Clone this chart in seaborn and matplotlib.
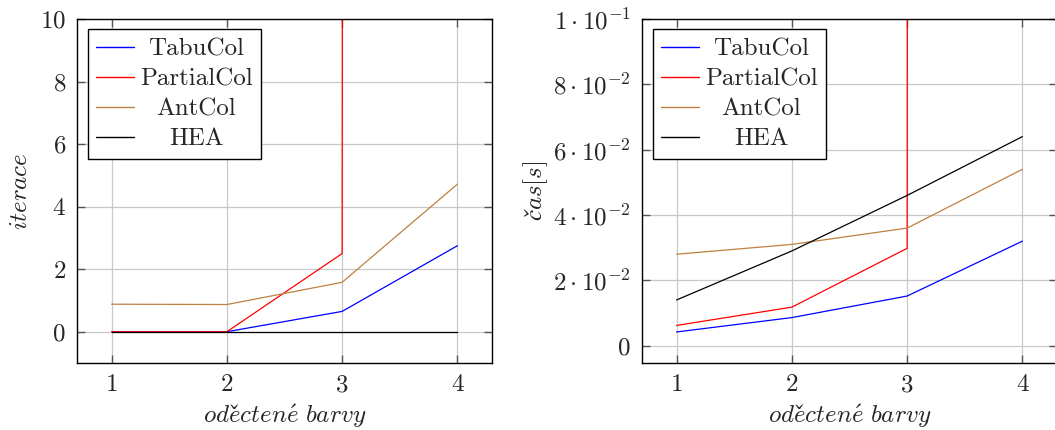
import numpy as np
import pandas as pd
import matplotlib
matplotlib.use("Agg")
import matplotlib.pyplot as plt
from matplotlib.ticker import FuncFormatter
from matplotlib.transforms import Affine2D
import seaborn as sns

# ---- data ----
x_vals = [1, 2, 3, 4]
algorithms = ["TabuCol", "PartialCol", "AntCol", "HEA"]
iter_tabucol = [0.0, 0.0, 0.65, 2.75]
iter_partialcol = [0.0, 0.0, 2.5, 5000.0]
iter_antcol = [0.88, 0.87, 1.58, 4.72]
iter_hea = [0.0, 0.0, 0.0, 0.0]
time_tabucol = [0.0042, 0.0086, 0.0152, 0.032]
time_partialcol = [0.0062, 0.0118, 0.0298, 50.0]
time_antcol = [0.028, 0.031, 0.036, 0.054]
time_hea = [0.014, 0.029, 0.046, 0.064]
colors = ["#0000ff", "#ff0000", "#bf8040", "#000000"]
left_yticks = [0, 2, 4, 6, 8, 10]
right_yticks = [0, 0.02, 0.04, 0.06, 0.08, 0.1]

def long_df(series):
    rows = []
    for name, vals in zip(algorithms, series):
        for xv, yv in zip(x_vals, vals):
            rows.append({"x": xv, "y": yv, "alg": name})
    return pd.DataFrame(rows)

df_iter = long_df([iter_tabucol, iter_partialcol, iter_antcol, iter_hea])
df_time = long_df([time_tabucol, time_partialcol, time_antcol, time_hea])

sns.set_theme(style="white")
plt.rcParams["font.family"] = ["cmr10", "DejaVu Serif"]
plt.rcParams["mathtext.fontset"] = "cm"
plt.rcParams["axes.formatter.use_mathtext"] = True
FS = 18

W, H = 1055, 430
fig = plt.figure(figsize=(W / 100, H / 100), dpi=100)
ax1 = fig.add_axes([77 / W, (H - 363) / H, 415 / W, 344 / H])
ax2 = fig.add_axes([642 / W, (H - 363) / H, 415 / W, 344 / H])

pal = dict(zip(algorithms, colors))
legends = []

for ax, df in [(ax1, df_iter), (ax2, df_time)]:
    sns.lineplot(data=df, x="x", y="y", hue="alg", hue_order=algorithms,
                 palette=pal, estimator=None, linewidth=0.9, ax=ax,
                 legend=True)
    ax.set_xlim(0.7, 4.3)
    ax.set_xticks(x_vals)
    ax.set_xticklabels([f"${v}$" for v in x_vals])
    ax.grid(True, color="#c8c8c8", linewidth=0.9)
    ax.set_axisbelow(True)
    for s in ax.spines.values():
        s.set_color("black")
        s.set_linewidth(1.0)
    ax.tick_params(axis="both", which="major", direction="in", length=6,
                   width=1.0, color="#555555", labelsize=FS, pad=8,
                   top=True, right=True, left=True, bottom=True)
    ax.set_xlabel(r"$ode\check{c}ten\acute{e}\ barvy$", fontsize=FS, labelpad=4)
    leg = ax.legend(loc="upper left", fontsize=FS, frameon=True, fancybox=False,
                    edgecolor="black", framealpha=1, borderpad=0.34,
                    labelspacing=0.30, handlelength=1.5, handletextpad=0.25,
                    borderaxespad=0.42)
    leg.get_frame().set_linewidth(1.0)
    for l in leg.get_lines():
        l.set_linewidth(1.0)
    legends.append(leg)

ax1.set_ylim(-1, 10)
ax1.set_yticks(left_yticks)
ax1.set_yticklabels([f"${v}$" for v in left_yticks])
ax1.set_ylabel(r"$iterace$", fontsize=FS, labelpad=6)

ax2.set_ylim(-0.0053, 0.1)
ax2.set_yticks(right_yticks)

def sci_fmt(v, pos):
    if abs(v) < 1e-12:
        return "$0$"
    e = int(np.floor(np.log10(abs(v)) + 1e-9))
    m = v / 10 ** e
    return rf"${m:.0f}\cdot 10^{{{e}}}$"

ax2.yaxis.set_major_formatter(FuncFormatter(sci_fmt))
ax2.set_ylabel("$čas[s]$", fontsize=FS, labelpad=2)

# center legend labels within the text column (as in pgfplots)
fig.canvas.draw()
renderer = fig.canvas.get_renderer()
for leg in legends:
    texts = leg.get_texts()
    widths = [t.get_window_extent(renderer).width for t in texts]
    wmax = max(widths)
    for t, w in zip(texts, widths):
        t.set_transform(t.get_transform() + Affine2D().translate((wmax - w) / 2, 0))

fig.savefig("out.png", dpi=100)
